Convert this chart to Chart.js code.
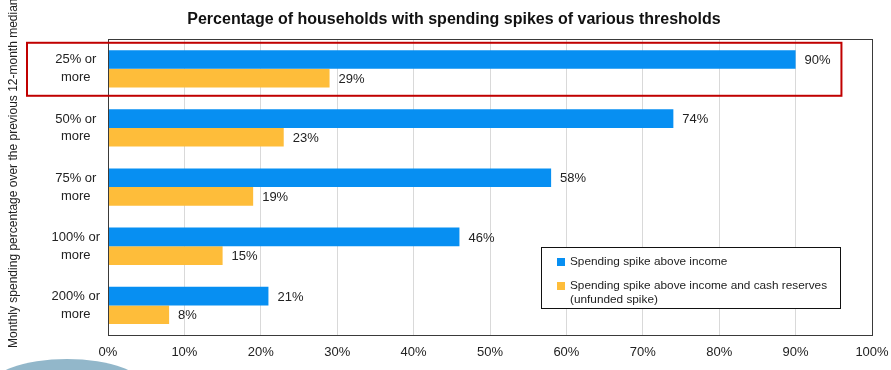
<!DOCTYPE html>
<html>
<head>
<meta charset="utf-8">
<script src="https://cdn.jsdelivr.net/npm/chart.js@4/dist/chart.umd.min.js"></script>
<style>
    html, body { margin: 0; padding: 0; background: #fff; }
    #wrap { position: relative; width: 891px; height: 370px; }
</style>
</head>
<body>
<div id="wrap"><canvas id="spikesChart" width="891" height="370"></canvas></div>
<script>
// categorias (umbral del pico de gasto)
const umbrales = [['25% or', 'more'], ['50% or', 'more'], ['75% or', 'more'], ['100% or', 'more'], ['200% or', 'more']];
// % de hogares con gasto por encima del ingreso
const sobreIngreso = [90, 74, 58, 46, 21];
// % de hogares con gasto por encima del ingreso y reservas
const sinFondos = [29, 23, 19, 15, 8];
const xTicks = [0, 10, 20, 30, 40, 50, 60, 70, 80, 90, 100];

const etiquetas = ['Spending spike above income', 'Spending spike above income and cash reserves (unfunded spike)'];
const tituloEjeY = 'Monthly spending percentage over the previous 12-month median';
const colores = ['#078ff2', '#febd3a'];

const fuente = '"Liberation Sans", Arial, sans-serif';

// dibuja marco, valores, recuadro rojo, leyenda y titulo del eje Y
const extras = {
    id: 'extras',
    beforeDraw(chart) {
        const c = chart.ctx;
        // mancha azul decorativa abajo a la izquierda
        c.save();
        c.fillStyle = '#92b7ca';
        c.beginPath();
        c.ellipse(67, 389, 79, 30, 0, 0, Math.PI * 2);
        c.fill();
        c.restore();
    },
    afterDatasetsDraw(chart) {
        const c = chart.ctx;
        const a = chart.chartArea;
        c.save();
        // marco del area
        c.strokeStyle = '#3a3a3a';
        c.lineWidth = 1;
        c.strokeRect(Math.round(a.left) + 0.5, Math.round(a.top) + 0.5, Math.round(a.right - a.left), Math.round(a.bottom - a.top));

        // etiquetas de valor
        c.font = '13px ' + fuente;
        c.fillStyle = '#222';
        c.textBaseline = 'middle';
        c.textAlign = 'left';
        chart.data.datasets.forEach((ds, i) => {
            chart.getDatasetMeta(i).data.forEach((bar, j) => {
                c.fillText(ds.data[j] + '%', bar.x + 9, bar.y + 1);
            });
        });

        // recuadro rojo sobre la primera categoria
        const y0 = chart.scales.y.getPixelForValue(0);
        c.strokeStyle = '#c00000';
        c.lineWidth = 2;
        c.strokeRect(27, y0 - 26, chart.scales.x.getPixelForValue(96) - 27, 53);

        // leyenda
        const lx = 541, ly = 247, lw = 299, lh = 61;
        c.fillStyle = '#fff';
        c.fillRect(lx, ly, lw, lh);
        c.strokeStyle = '#111';
        c.lineWidth = 1;
        c.strokeRect(lx + 0.5, ly + 0.5, lw, lh);
        c.font = '11.8px ' + fuente;
        c.textBaseline = 'middle';
        let ty = ly + 15;
        etiquetas.forEach((txt, i) => {
            c.fillStyle = colores[i];
            c.fillRect(lx + 16, ty - 4, 8, 8);
            c.fillStyle = '#222';
            // partir el texto en lineas
            const palabras = txt.split(' ');
            let linea = '';
            const lineas = [];
            palabras.forEach(p => {
                const prueba = linea ? linea + ' ' + p : p;
                if (c.measureText(prueba).width > 266 && linea) {
                    lineas.push(linea);
                    linea = p;
                } else {
                    linea = prueba;
                }
            });
            lineas.push(linea);
            lineas.forEach((l, k) => c.fillText(l, lx + 29, ty + k * 14));
            ty += 24;
        });

        // titulo del eje Y
        c.translate(14, 348);
        c.rotate(-Math.PI / 2);
        c.font = '12px ' + fuente;
        c.fillStyle = '#222';
        c.textAlign = 'left';
        c.fillText(tituloEjeY, 0, 0);
        c.restore();
    }
};

const ctx = document.getElementById('spikesChart').getContext('2d');
const spikesChart = new Chart(ctx, {
    type: 'bar',
    data: {
        labels: umbrales,
        datasets: etiquetas.map((lab, i) => ({
            label: lab,
            data: i === 0 ? sobreIngreso : sinFondos,
            backgroundColor: colores[i],
            borderWidth: 0,
            categoryPercentage: 0.63,
            barPercentage: 1
        }))
    },
    options: {
        indexAxis: 'y',
        responsive: false,
        animation: false,
        layout: { padding: { top: 0, right: 19, bottom: 0, left: 36 } },
        plugins: {
            legend: { display: false },
            tooltip: { enabled: false },
            title: {
                display: true,
                text: 'Percentage of households with spending spikes of various thresholds',
                color: '#111',
                font: { family: fuente, size: 16, weight: 'bold', lineHeight: 1.2 },
                padding: { top: 10, bottom: 10 }
            }
        },
        scales: {
            x: {
                min: 0,
                max: 100,
                afterBuildTicks: s => { s.ticks = xTicks.map(v => ({ value: v })); },
                afterFit: s => {
                    s.height = 35;
                    s.paddingLeft = 0;
                    s.paddingRight = 0;
                },
                grid: { color: '#d9d9d9', drawTicks: false },
                border: { display: false },
                ticks: {
                    padding: 10,
                    color: '#222',
                    font: { family: fuente, size: 13 },
                    callback: v => v + '%'
                }
            },
            y: {
                afterFit: s => { s.width = 72; },
                grid: { display: false, drawTicks: false },
                border: { display: false },
                ticks: {
                    padding: 8,
                    crossAlign: 'center',
                    color: '#222',
                    font: { family: fuente, size: 13, lineHeight: 1.38 }
                }
            }
        }
    },
    plugins: [extras]
});
</script>
</body>
</html>
